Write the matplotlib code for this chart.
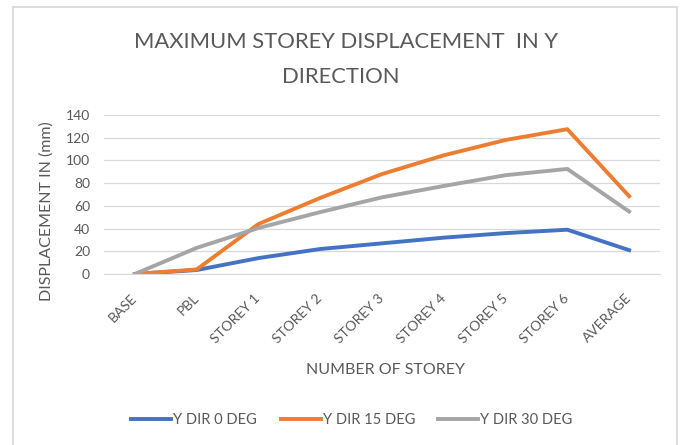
import matplotlib.pyplot as plt
import matplotlib.transforms as mtransforms
from matplotlib.patches import Rectangle

plt.rcParams['font.family'] = ['Lato', 'DejaVu Sans']

storeys = ['BASE', 'PBL', 'STOREY 1', 'STOREY 2', 'STOREY 3',
           'STOREY 4', 'STOREY 5', 'STOREY 6', 'AVERAGE']
y_dir_0 = [0, 3.5, 14, 22, 27, 32, 36, 39, 21]
y_dir_15 = [0, 4, 44, 67, 88, 104.5, 118, 127.5, 68.5]
y_dir_30 = [0, 23, 40.5, 54.5, 67.5, 77.5, 87, 92.5, 55]

W, H = 683, 445
txt = '#595959'
grid = '#d9d9d9'

fig = plt.figure(figsize=(W / 100, H / 100), dpi=100)
# outer chart border
fig.patches.append(Rectangle((12.7 / W, -0.02), (677 - 12.7) / W, 1 - 7 / H + 0.02,
                             transform=fig.transFigure, fill=False,
                             edgecolor=grid, linewidth=1.3))
ax = fig.add_axes([104 / W, 1 - 274 / H, 556 / W, 159 / H])

x = range(len(storeys))
ax.plot(x, y_dir_0, color='#4472c4', lw=2.8, label='Y DIR 0 DEG')
ax.plot(x, y_dir_15, color='#ed7d31', lw=2.8, label='Y DIR 15 DEG')
ax.plot(x, y_dir_30, color='#a5a5a5', lw=2.8, label='Y DIR 30 DEG')

ax.set_xlim(-0.5, len(storeys) - 0.5)
ax.set_ylim(0, 140)
ax.set_yticks(range(0, 141, 20))
ax.set_xticks(list(x))
ax.set_xticklabels(storeys, rotation=45, ha='right', va='center',
                   rotation_mode='anchor')
shift = mtransforms.ScaledTranslation(5 / 100, 0, fig.dpi_scale_trans)
for lab in ax.get_xticklabels():
    lab.set_transform(lab.get_transform() + shift)

ax.grid(axis='y', color=grid, lw=0.9)
ax.set_axisbelow(True)
for s in ['top', 'right', 'left']:
    ax.spines[s].set_visible(False)
ax.spines['bottom'].set_color(grid)
ax.tick_params(axis='both', colors=txt, labelsize=10, length=0)
ax.tick_params(axis='y', pad=10)
ax.tick_params(axis='x', pad=16)

fig.text(47 / W, 1 - 211 / H, 'DISPLACEMENT IN (mm)', color=txt, fontsize=11.5,
         rotation=90, ha='center', va='center')
fig.text(385 / W, 1 - 373.5 / H, 'NUMBER OF STOREY', color=txt, fontsize=11.5,
         ha='center', va='baseline')
fig.text(346.5 / W, 1 - 48 / H, 'MAXIMUM STOREY DISPLACEMENT  IN Y',
         color=txt, fontsize=15.8, ha='center', va='baseline')
fig.text(340.5 / W, 1 - 83 / H, 'DIRECTION',
         color=txt, fontsize=15.8, ha='center', va='baseline')

fig.legend(loc='center', bbox_to_anchor=(352 / W, 1 - 420 / H), ncol=3,
           frameon=False, fontsize=10.5, handlelength=2.74, columnspacing=1.6,
           handletextpad=0.14, labelcolor=txt)

fig.savefig('out.png', dpi=100)
